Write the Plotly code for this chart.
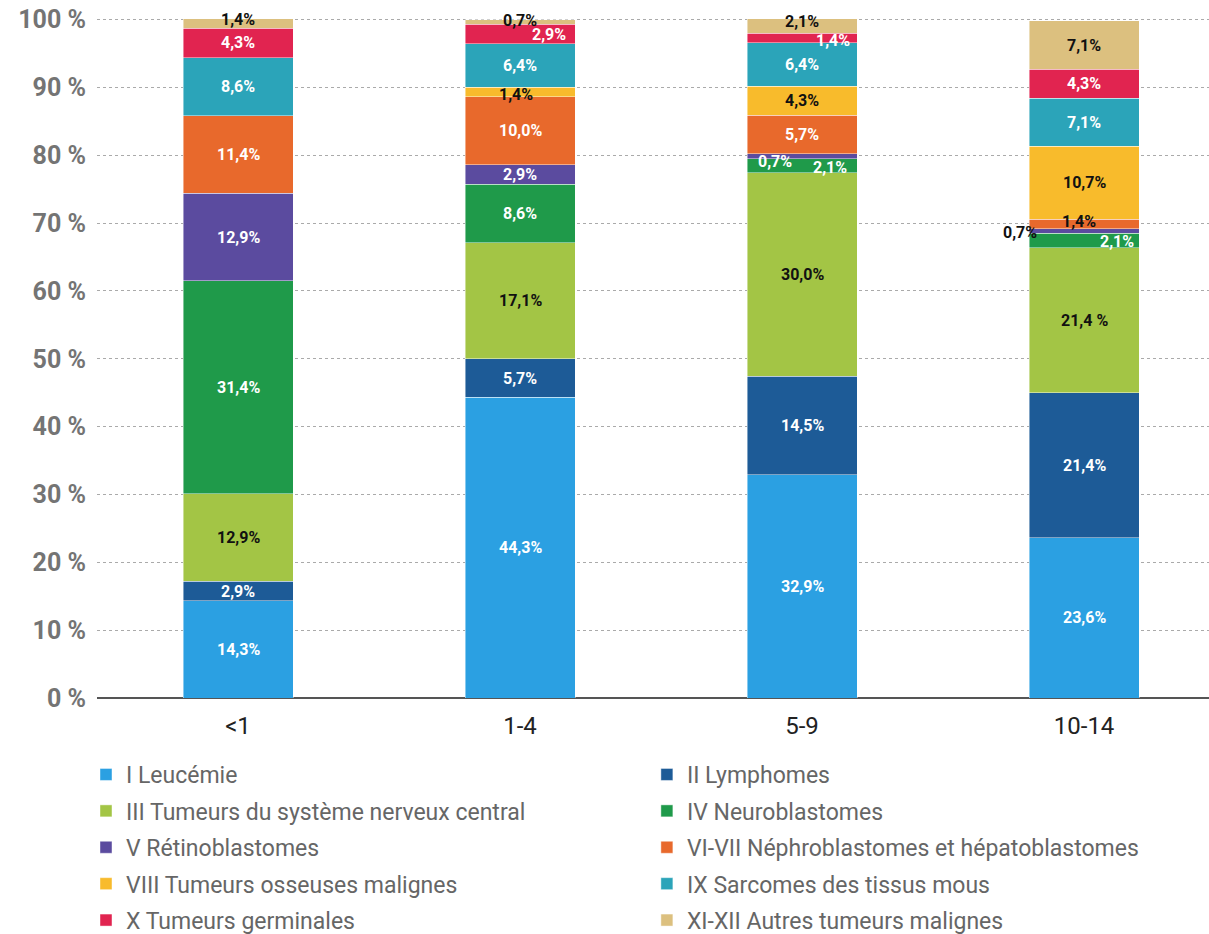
import plotly.graph_objects as go

categories = ["<1", "1-4", "5-9", "10-14"]

series_names = [
    "I Leucémie",
    "II Lymphomes",
    "III Tumeurs du système nerveux central",
    "IV Neuroblastomes",
    "V Rétinoblastomes",
    "VI-VII Néphroblastomes et hépatoblastomes",
    "VIII Tumeurs osseuses malignes",
    "IX Sarcomes des tissus mous",
    "X Tumeurs germinales",
    "XI-XII Autres tumeurs malignes",
]

leucemie = [14.3, 44.3, 32.9, 23.6]
lymphomes = [2.9, 5.7, 14.5, 21.4]
snc = [12.9, 17.1, 30.0, 21.4]
neuroblastomes = [31.4, 8.6, 2.1, 2.1]
retinoblastomes = [12.9, 2.9, 0.7, 0.7]
nephro_hepato = [11.4, 10.0, 5.7, 1.4]
osseuses = [0.0, 1.4, 4.3, 10.7]
sarcomes = [8.6, 6.4, 6.4, 7.1]
germinales = [4.3, 2.9, 1.4, 4.3]
autres = [1.4, 0.7, 2.1, 7.1]

values = [leucemie, lymphomes, snc, neuroblastomes, retinoblastomes,
          nephro_hepato, osseuses, sarcomes, germinales, autres]

y_ticks = [0, 10, 20, 30, 40, 50, 60, 70, 80, 90, 100]

# ---- styles ----
colors = ["#2ba0e2", "#1d5b97", "#a3c545", "#1f9a4a", "#5b4b9f",
          "#e8692c", "#f8bb2c", "#2ba4b9", "#e12450", "#dcc07f"]
label_colors = ["white", "white", "#111", "white", "white",
                "white", "#111", "white", "white", "#111"]
# per-(series, category) label tweaks: (xshift, yshift, color override)
label_tweaks = {
    (9, 0): (0, 4, None),
    (9, 1): (0, 1, None),
    (8, 1): (29, 0, None),
    (6, 1): (-4, -2, None),
    (9, 2): (0, 5, None),
    (8, 2): (31, -3, None),
    (4, 2): (-27, -5, None),
    (3, 2): (28, -2, None),
    (4, 3): (-64, -2, "#111"),
    (3, 3): (33, -1, None),
    (5, 3): (-5, 2, "#111"),
}
legend_cols = ["legend", "legend2"]

FONT = "Roboto"

fig = go.Figure()
for i, (name, vals) in enumerate(zip(series_names, values)):
    fig.add_trace(go.Bar(
        name=name,
        x=categories,
        y=vals,
        width=0.39,
        marker=dict(color=colors[i], line=dict(color="rgba(255,255,255,0.55)", width=0.8)),
        legend=legend_cols[i % 2],
        legendgroup=name,
        hoverinfo="skip",
    ))

annotations = []
for j, cat in enumerate(categories):
    base = 0.0
    for i, vals in enumerate(values):
        v = vals[j]
        if v > 0:
            xs, ys, col = label_tweaks.get((i, j), (0, 0, None))
            txt = f"{v:.1f}".replace(".", ",") + "%"
            if i == 2 and j == 3:
                txt = f"{v:.1f}".replace(".", ",") + " %"
            annotations.append(dict(
                x=cat, y=base + v / 2, xref="x", yref="y",
                text=txt, showarrow=False,
                xshift=xs, yshift=ys,
                font=dict(family=FONT, size=16, color=col or label_colors[i], weight="bold"),
            ))
        base += v

legend_common = dict(
    orientation="v",
    font=dict(family=FONT, size=23, color="#666"),
    tracegroupgap=3.5,
    bgcolor="rgba(0,0,0,0)",
    yanchor="top",
    xanchor="left",
    itemclick=False,
    itemdoubleclick=False,
)

fig.update_layout(
    width=1209,
    height=934,
    barmode="stack",
    plot_bgcolor="white",
    paper_bgcolor="white",
    margin=dict(l=97, r=0, t=6, b=236, autoexpand=False),
    annotations=annotations,
    legend=dict(x=-0.0099, y=-0.0795, **legend_common),
    legend2=dict(x=0.4945, y=-0.0795, **legend_common),
    xaxis=dict(
        range=[-0.5, 3.443],
        showgrid=False,
        tickfont=dict(family=FONT, size=24, color="#222"),
        ticks="",
        showline=False,
        ticklabelstandoff=11,
        automargin=False,
    ),
    yaxis=dict(
        range=[0, 102],
        tickvals=y_ticks,
        ticktext=[f"{t} %" for t in y_ticks],
        tickfont=dict(family=FONT, size=25, color="#747474", weight="bold"),
        showgrid=True,
        gridcolor="#aaaaaa",
        griddash="dot",
        gridwidth=1,
        zeroline=True,
        zerolinecolor="#555",
        zerolinewidth=1.5,
        ticklabelstandoff=10,
        automargin=False,
    ),
)

fig.write_html(
    "out.html",
    config={"displayModeBar": False},
    post_script="document.body.style.margin='0';document.body.style.padding='0';",
)
